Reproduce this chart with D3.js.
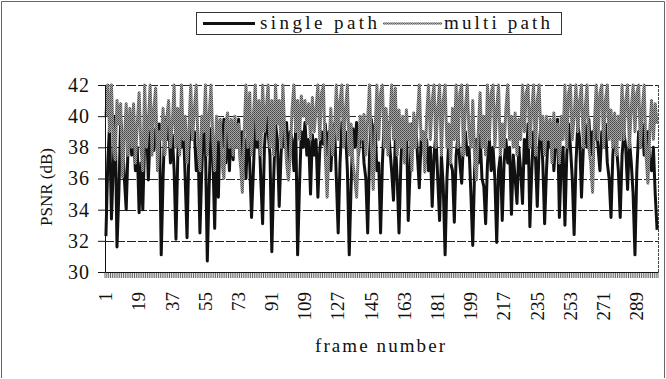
<!DOCTYPE html>
<html>
<head>
<meta charset="utf-8">
<script src="https://cdn.jsdelivr.net/npm/d3@7"></script>
<style>
  body { margin: 0; background: #fff; }
  svg text { font-family: "Liberation Serif", "DejaVu Serif", serif; fill: #111; }
</style>
</head>
<body>
<svg id="chart" width="666" height="379"></svg>
<script>
// frame numbers on the category axis
const frames = d3.range(1, 301);

const xTickLabels = [1, 19, 37, 55, 73, 91, 109, 127, 145, 163, 181, 199, 217, 235, 253, 271, 289];
const yTickValues = [30, 32, 34, 36, 38, 40, 42];

// PSNR (dB) per frame
const singlePath = [
  32.3, 37.0, 39.5, 33.4, 36.8, 40.0, 31.6, 35.0, 39.8, 38.5,
  36.0, 34.0, 38.0, 39.8, 37.5, 39.0, 36.5, 38.0, 33.8, 37.0,
  34.0, 38.5, 40.0, 35.9, 38.8, 39.6, 37.8, 39.2, 38.0, 39.5,
  31.1, 36.0, 39.8, 38.5, 39.9, 37.0, 38.8, 36.5, 32.1, 37.5,
  39.7, 38.0, 39.5, 36.0, 32.2, 37.8, 39.9, 38.5, 39.0, 36.5,
  38.0, 32.5, 36.5, 39.8, 38.0, 30.7, 35.5, 39.2, 37.5, 32.8,
  38.5, 34.8, 39.6, 38.0, 39.8, 37.0, 39.5, 36.5, 39.7, 37.2,
  39.5, 38.0, 39.8, 36.8, 39.0, 38.5, 36.0, 39.5, 37.0, 33.5,
  36.5, 39.8, 38.0, 39.5, 36.0, 33.1, 38.0, 40.0, 39.0, 37.5,
  31.3, 36.0, 39.5, 38.5, 34.2, 37.5, 39.8, 38.0, 39.6, 37.0,
  39.0, 38.5, 36.5, 39.2, 31.1, 35.5, 39.0, 38.0, 39.6, 37.5,
  38.5, 35.0, 38.8, 37.5, 38.5, 34.8, 37.8, 39.0, 38.2, 39.5,
  37.5, 39.0, 36.5, 38.8, 39.5, 36.0, 32.5, 37.0, 39.6, 38.5,
  39.0, 36.5, 31.1, 35.5, 39.2, 38.0, 39.6, 37.5, 38.8, 39.5,
  37.0, 36.0, 32.5, 37.5, 39.8, 38.0, 39.5, 36.5, 37.0, 32.5,
  37.0, 39.8, 38.5, 39.6, 38.0, 36.5, 34.6, 38.5, 36.0, 32.5,
  37.0, 39.5, 38.0, 39.8, 33.3, 36.5, 39.5, 38.0, 39.7, 37.5,
  35.4, 38.5, 39.0, 37.0, 38.5, 36.5, 38.0, 34.2, 37.5, 38.8,
  36.0, 33.3, 37.5, 35.5, 31.1, 36.0, 38.5, 37.0, 36.5, 33.2,
  37.5, 38.8, 37.0, 35.7, 38.5, 39.0, 37.5, 38.0, 35.0, 31.7,
  36.5, 38.5, 37.0, 38.8, 36.0, 35.5, 33.1, 37.0, 38.5, 36.5,
  38.0, 36.0, 31.9, 36.5, 37.5, 33.3, 37.0, 38.5, 37.0, 38.0,
  33.7, 37.5, 36.0, 34.4, 38.0, 36.5, 34.4, 38.5, 37.0, 39.5,
  32.9, 36.5, 39.0, 37.5, 34.2, 38.0, 39.5, 37.0, 33.1, 36.5,
  39.0, 38.0, 39.5, 36.5, 38.5, 39.8, 33.5, 37.0, 38.0, 33.0,
  37.5, 39.5, 38.0, 36.0, 32.4, 37.0, 39.5, 38.5, 34.8, 38.0,
  39.5, 38.0, 39.8, 37.5, 39.0, 38.5, 39.6, 38.0, 36.5, 39.0,
  38.0, 39.5, 37.0, 36.0, 33.5, 37.5, 39.0, 38.0, 36.5, 33.5,
  37.5, 39.0, 38.0, 35.3, 38.5, 37.0, 35.0, 31.1, 36.5, 39.0,
  38.0, 39.5, 37.5, 38.5, 39.0, 37.0, 36.5, 38.0, 35.0, 32.7
];

const multiPath = [
  40.0, 42.0, 39.0, 42.0, 38.5, 37.2, 41.0, 39.5, 40.8, 36.1,
  38.5, 40.8, 37.5, 40.5, 38.0, 40.8, 37.0, 39.5, 41.5, 38.0,
  36.5, 42.0, 38.0, 39.5, 42.0, 37.5, 40.5, 41.8, 36.5, 39.0,
  38.5, 40.5, 37.5, 39.8, 41.0, 38.0, 39.5, 42.0, 38.0, 40.5,
  37.5, 42.0, 38.5, 40.0, 37.0, 39.0, 42.0, 38.5, 40.5, 42.0,
  38.0, 36.5, 40.0, 39.0, 42.0, 37.5, 40.0, 42.0, 38.5, 36.5,
  40.0, 38.5, 39.8, 37.0, 36.0, 39.5, 40.2, 38.0, 39.8, 37.5,
  40.0, 38.0, 39.5, 37.0, 35.1, 39.0, 42.0, 38.0, 41.5, 37.5,
  40.0, 42.0, 38.5, 41.0, 37.5, 42.0, 39.0, 40.5, 42.0, 38.0,
  41.0, 37.5, 42.0, 39.5, 41.0, 38.0, 42.0, 39.0, 37.0, 35.9,
  37.5, 40.5, 42.0, 39.0, 41.0, 38.5, 41.3, 40.0, 41.0, 39.5,
  40.8, 38.5, 41.2, 39.0, 40.5, 42.0, 38.5, 41.5, 42.0, 37.5,
  34.8, 38.0, 40.5, 37.5, 39.0, 42.0, 38.5, 41.0, 42.0, 38.0,
  40.5, 42.0, 37.5, 39.5, 37.0, 36.0, 34.8, 38.0, 40.0, 38.5,
  40.1, 37.5, 39.8, 42.0, 38.0, 35.3, 39.0, 42.0, 38.5, 41.5,
  42.0, 38.0, 40.5, 37.5, 39.5, 42.0, 38.5, 41.8, 37.5, 40.4,
  38.0, 40.0, 37.0, 40.4, 38.5, 39.5, 36.5, 40.2, 38.0, 40.0,
  42.0, 38.5, 39.0, 36.4, 40.0, 42.0, 38.5, 41.0, 42.0, 38.0,
  40.5, 42.0, 37.5, 41.0, 42.0, 38.0, 39.5, 37.0, 40.5, 38.5,
  42.0, 38.0, 41.5, 42.0, 37.5, 40.5, 42.0, 39.0, 38.0, 41.0,
  37.5, 35.9, 39.0, 41.5, 38.0, 40.0, 37.5, 42.0, 38.5, 41.5,
  42.0, 38.0, 40.5, 42.0, 37.5, 39.5, 38.0, 40.5, 42.0, 38.5,
  40.0, 38.0, 40.2, 37.5, 39.8, 38.5, 42.0, 39.0, 41.5, 42.0,
  38.0, 40.5, 42.0, 37.5, 41.0, 42.0, 38.5, 40.0, 37.5, 40.0,
  38.5, 39.8, 37.0, 40.2, 38.0, 39.5, 37.0, 40.0, 38.5, 42.0,
  38.0, 41.5, 42.0, 38.5, 40.0, 42.0, 39.0, 41.0, 42.0, 38.0,
  40.5, 42.0, 38.0, 37.0, 35.1, 39.5, 42.0, 38.5, 41.5, 42.0,
  38.0, 41.0, 42.0, 38.5, 40.4, 38.0, 40.2, 37.5, 40.0, 38.5,
  42.0, 38.5, 41.0, 42.0, 38.0, 40.5, 42.0, 39.0, 41.5, 42.0,
  38.0, 40.5, 42.0, 37.5, 35.7, 39.0, 41.0, 38.5, 40.8, 39.5
];

const svg = d3.select("#chart");

// scanned-gray texture for the multi path series
const defs = svg.append("defs");
const pat = defs.append("pattern")
  .attr("id", "grain")
  .attr("patternUnits", "userSpaceOnUse")
  .attr("width", 2).attr("height", 2);
pat.append("rect").attr("width", 2).attr("height", 2).attr("fill", "#a8a8a8");
pat.append("rect").attr("width", 1).attr("height", 1).attr("fill", "#444");
pat.append("rect").attr("x", 1).attr("y", 1).attr("width", 1).attr("height", 1).attr("fill", "#5a5a5a");

// outer chart frame
svg.append("path")
  .attr("d", "M1.5,378 V1.5 H664.5 V378")
  .attr("fill", "none")
  .attr("stroke", "#666")
  .attr("stroke-width", 1);

const plotLeft = 105, plotRight = 658, plotTop = 85, plotBottom = 272;

const x = d3.scaleBand()
  .domain(frames)
  .range([plotLeft, plotRight])
  .padding(0);

const y = d3.scaleLinear()
  .domain([30, 42])
  .range([plotBottom, plotTop]);

// gridlines
svg.append("g")
  .selectAll("line")
  .data(yTickValues.filter(v => v > 30))
  .enter()
  .append("line")
  .attr("x1", plotLeft)
  .attr("x2", plotRight)
  .attr("y1", d => Math.round(y(d)) + 0.5)
  .attr("y2", d => Math.round(y(d)) + 0.5)
  .attr("stroke", "#222")
  .attr("stroke-width", 1)
  .attr("stroke-dasharray", "9,2");

// right edge of plot area
svg.append("line")
  .attr("x1", plotRight + 0.5).attr("x2", plotRight + 0.5)
  .attr("y1", plotTop).attr("y2", plotBottom)
  .attr("stroke", "#444")
  .attr("stroke-dasharray", "3,1");

// category tick hatch under the axis
svg.append("g")
  .selectAll("line")
  .data(d3.range(frames.length + 1))
  .enter()
  .append("line")
  .attr("x1", i => plotLeft + i * x.step())
  .attr("x2", i => plotLeft + i * x.step())
  .attr("y1", plotBottom)
  .attr("y2", plotBottom + 6)
  .attr("stroke", "#555")
  .attr("stroke-width", 0.9);

const line = d3.line()
  .x((d, i) => x(frames[i]) + x.bandwidth() / 2)
  .y(d => y(d));

svg.append("path")
  .datum(singlePath)
  .attr("d", line)
  .attr("fill", "none")
  .attr("stroke", "#111")
  .attr("stroke-width", 3)
  .attr("stroke-linejoin", "round");

svg.append("path")
  .datum(multiPath)
  .attr("d", line)
  .attr("fill", "none")
  .attr("stroke", "url(#grain)")
  .attr("stroke-width", 3)
  .attr("stroke-linejoin", "round");

// axes
const yAxis = svg.append("g")
  .attr("transform", "translate(" + plotLeft + ",0)")
  .call(d3.axisLeft(y).tickValues(yTickValues).tickSize(7).tickPadding(8).tickSizeOuter(0));
yAxis.select(".domain").attr("stroke", "#111");
yAxis.selectAll("line").attr("stroke", "#111");
yAxis.selectAll("text")
  .attr("font-size", "20px")
  .attr("letter-spacing", "1px")
  .attr("fill", "#111");

const xAxis = svg.append("g")
  .attr("transform", "translate(0," + plotBottom + ")")
  .call(d3.axisBottom(x).tickValues(xTickLabels).tickSize(0).tickSizeOuter(0));
xAxis.select(".domain").attr("stroke", "#111");
xAxis.selectAll("text")
  .attr("font-size", "19px")
  .attr("fill", "#111")
  .attr("transform", "rotate(-90)")
  .attr("text-anchor", "end")
  .attr("x", -20)
  .attr("y", 0)
  .attr("dy", "0.33em");

// axis titles
svg.append("text")
  .attr("transform", "translate(46,187) rotate(-90)")
  .attr("text-anchor", "middle")
  .attr("font-size", "17px")
  .attr("dy", "0.35em")
  .text("PSNR (dB)");

svg.append("text")
  .attr("x", 315)
  .attr("y", 352)
  .attr("font-size", "19px")
  .attr("textLength", 130)
  .attr("lengthAdjust", "spacing")
  .text("frame number");

// legend
const legend = svg.append("g");
legend.append("rect")
  .attr("x", 196.5).attr("y", 12.5)
  .attr("width", 365).attr("height", 22)
  .attr("fill", "#fff")
  .attr("stroke", "#333");
legend.append("line")
  .attr("x1", 203).attr("x2", 255)
  .attr("y1", 23.5).attr("y2", 23.5)
  .attr("stroke", "#111").attr("stroke-width", 3);
legend.append("text")
  .attr("x", 260).attr("y", 29)
  .attr("font-size", "19px")
  .attr("textLength", 117)
  .attr("lengthAdjust", "spacing")
  .text("single path");
legend.append("line")
  .attr("x1", 383).attr("x2", 442)
  .attr("y1", 23.5).attr("y2", 23.5)
  .attr("stroke", "url(#grain)").attr("stroke-width", 2);
legend.append("text")
  .attr("x", 444).attr("y", 29)
  .attr("font-size", "19px")
  .attr("textLength", 106)
  .attr("lengthAdjust", "spacing")
  .text("multi path");
</script>
</body>
</html>
